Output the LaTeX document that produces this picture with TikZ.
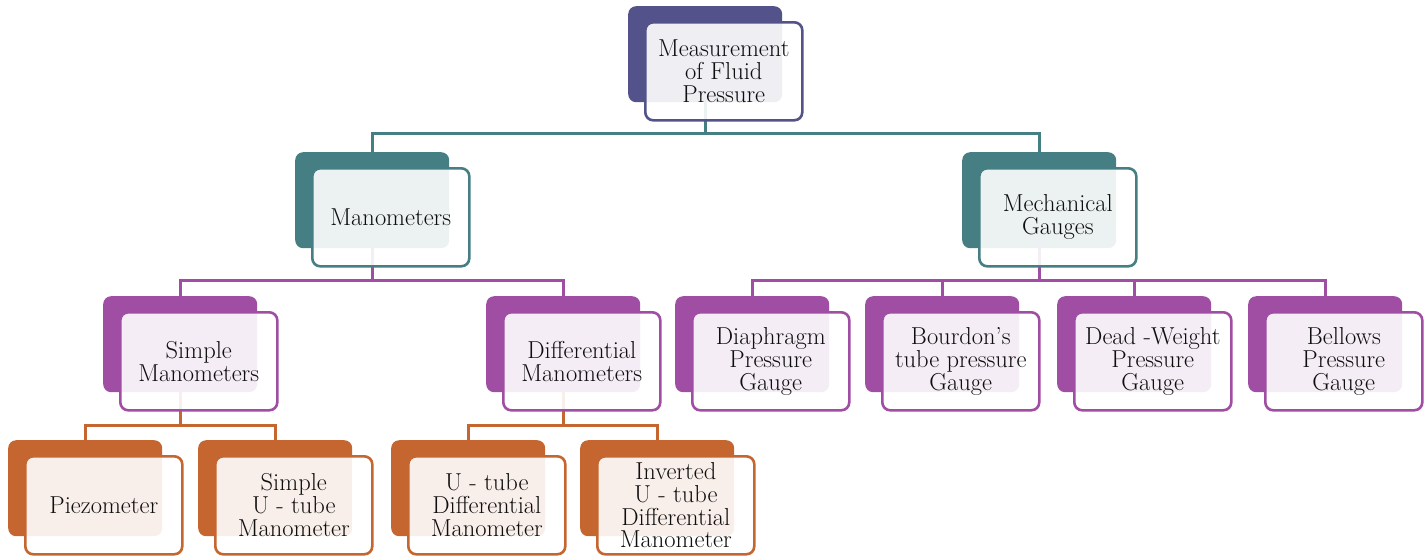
\documentclass[tikz,border=0pt]{standalone}
\usepackage{fontspec}
\definecolor{cind}{HTML}{53528A}
\definecolor{cteal}{HTML}{457F83}
\definecolor{cpur}{HTML}{A04EA3}
\definecolor{cora}{HTML}{C5652F}
\definecolor{ctxt}{HTML}{0E0E0E}
\tikzset{
  backbox/.style={draw=none, fill=#1, rounded corners=8pt, minimum width=154pt, minimum height=96pt, anchor=north west, inner sep=0pt},
  frontbox/.style={draw=#1, line width=2.6pt, fill=white, fill opacity=0.9, text opacity=1, rounded corners=8pt, minimum width=157pt, minimum height=98pt, anchor=north west, inner sep=0pt},
  lbl/.style={text=ctxt, align=center, font=\fontsize{24.5}{22.8}\selectfont},
  conn/.style={draw=#1, line width=2.6pt},
}
\begin{document}
\begin{tikzpicture}[x=1pt,y=-1pt]
\useasboundingbox (0,0) rectangle (1424,555);
% back boxes
\foreach \n/\c/\p in {top/cind/{628,6}, man/cteal/{295,152}, mech/cteal/{962,152},
  simp/cpur/{103,296}, diff/cpur/{486,296}, diap/cpur/{675,296}, bour/cpur/{865,296}, dead/cpur/{1057,296}, bell/cpur/{1248,296},
  piez/cora/{8,440}, sut/cora/{198,440}, utd/cora/{391,440}, inv/cora/{580,440}}{
  \node[backbox=\c] (\n b) at (\p) {};
}
% connectors
\draw[conn=cteal] (topb.south) -- ++(0,31) -| (manb.north);
\draw[conn=cteal] (topb.south) -- ++(0,31) -| (mechb.north);
\foreach \ch in {simp,diff}{\draw[conn=cpur] (manb.south) -- ++(0,32) -| (\ch b.north);}
\foreach \ch in {diap,bour,dead,bell}{\draw[conn=cpur] (mechb.south) -- ++(0,32) -| (\ch b.north);}
\foreach \ch in {piez,sut}{\draw[conn=cora] (simpb.south) -- ++(0,33) -| (\ch b.north);}
\foreach \ch in {utd,inv}{\draw[conn=cora] (diffb.south) -- ++(0,33) -| (\ch b.north);}
% front boxes
\foreach \n/\c in {top/cind, man/cteal, mech/cteal, simp/cpur, diff/cpur, diap/cpur, bour/cpur, dead/cpur, bell/cpur, piez/cora, sut/cora, utd/cora, inv/cora}{
  \path (\n b.north west) ++(16,15) coordinate (\n c);
  \node[frontbox=\c] (\n f) at (\n c) {};
}
% labels
\node[lbl] (top) at (topf.center) {Measurement\\of Fluid\\Pressure};
\node[lbl] (man) at (manf.center) {Manometers};
\node[lbl] (mech) at (mechf.center) {Mechanical\\Gauges};
\node[lbl] (simp) at (simpf.center) {Simple\\Manometers};
\node[lbl] (diff) at (difff.center) {Differential\\Manometers};
\node[lbl] (diap) at (diapf.center) {Diaphragm\\Pressure\\Gauge};
\node[lbl] (bour) at (bourf.center) {Bourdon’s\\tube pressure\\Gauge};
\node[lbl] (dead) at (deadf.center) {Dead -Weight\\Pressure\\Gauge};
\node[lbl] (bell) at (bellf.center) {Bellows\\Pressure\\Gauge};
\node[lbl] (piez) at (piezf.center) {Piezometer};
\node[lbl] (sut) at (sutf.center) {Simple\\U - tube\\Manometer};
\node[lbl] (utd) at (utdf.center) {U - tube\\Differential\\Manometer};
\node[lbl] (inv) at (invf.center) {Inverted\\U - tube\\Differential\\Manometer};
\end{tikzpicture}
\end{document}
